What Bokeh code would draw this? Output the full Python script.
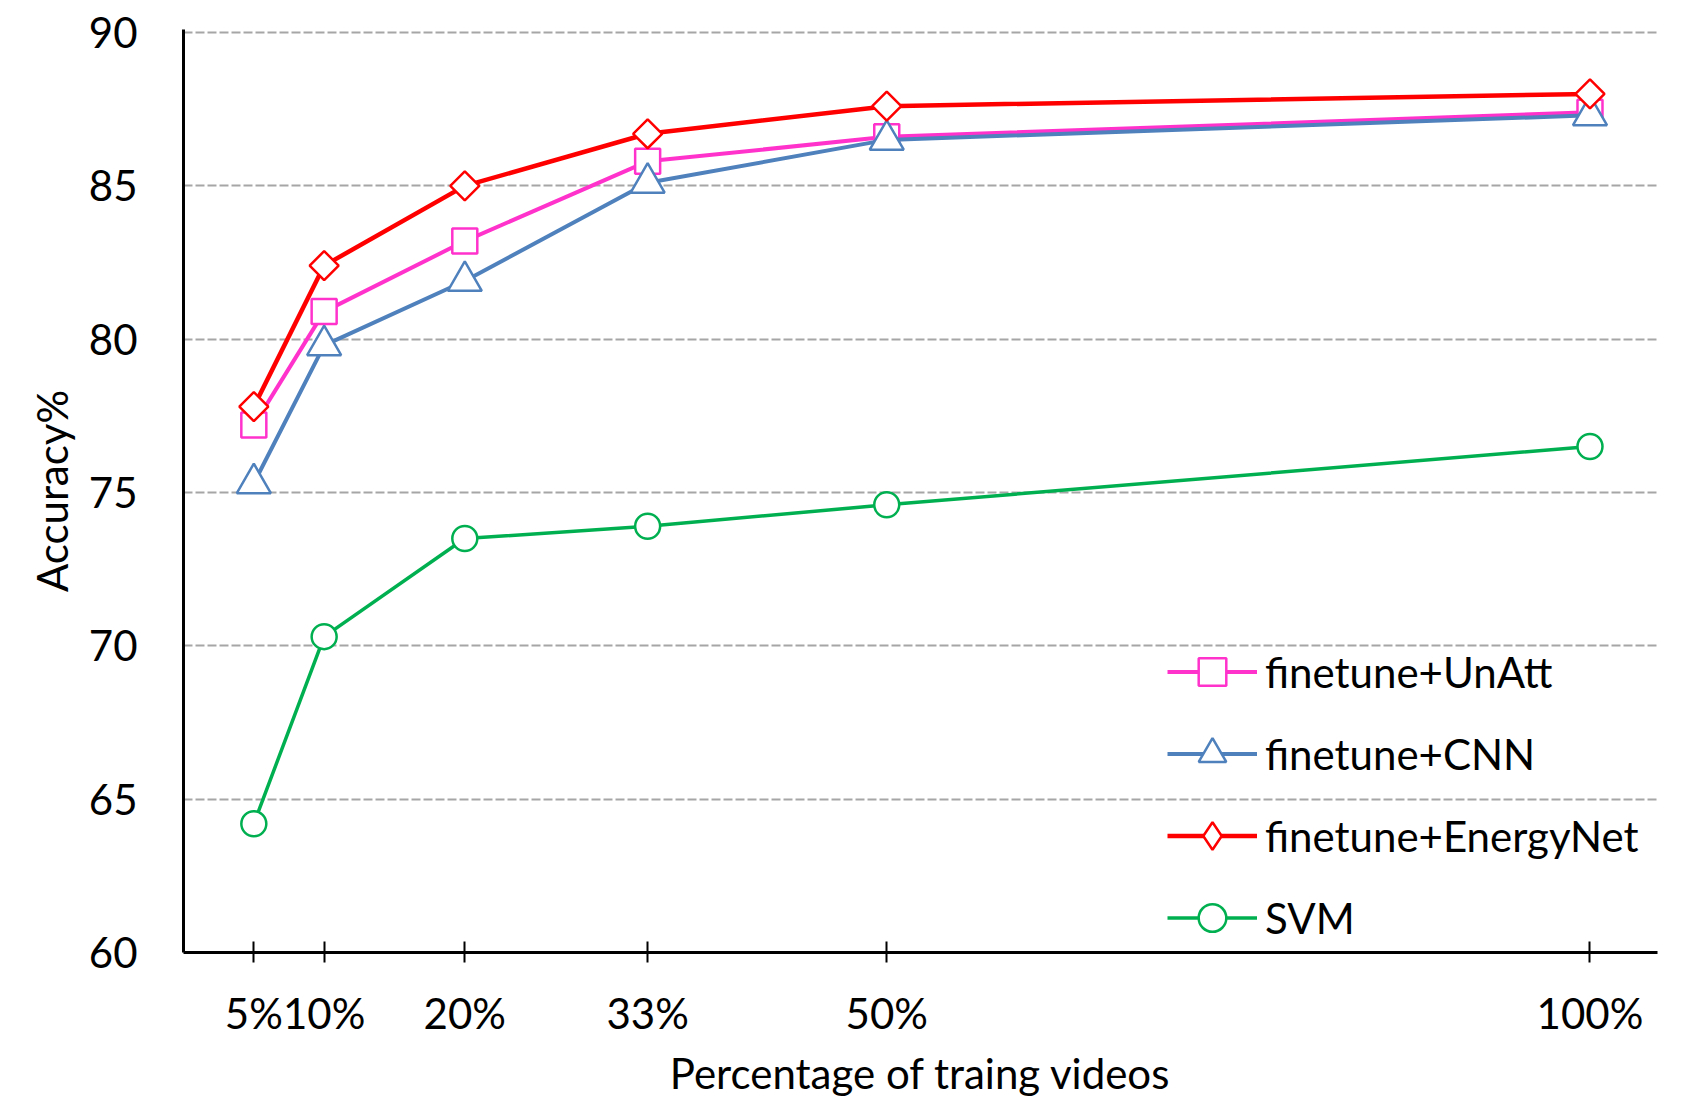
import math
from bokeh.plotting import figure
from bokeh.models import FixedTicker, Range1d, Legend, LegendItem
from bokeh.embed import file_html
from bokeh.resources import INLINE

# ---- data ----
x_pct = [5, 10, 20, 33, 50, 100]
x_tick_labels = ["5%", "10%", "20%", "33%", "50%", "100%"]
y_ticks = [60, 65, 70, 75, 80, 85, 90]
unatt = [77.2, 80.9, 83.2, 85.8, 86.6, 87.4]
cnn = [75.3, 79.8, 81.9, 85.1, 86.5, 87.3]
energy = [77.8, 82.4, 85.0, 86.7, 87.6, 88.0]
svm = [64.2, 70.3, 73.5, 73.9, 74.6, 76.5]
series_names = ["finetune+UnAtt", "finetune+CNN", "finetune+EnergyNet", "SVM"]

FONT = "Lato"
FS = "42px"

p = figure(width=1681, height=1105, output_backend="svg", toolbar_location=None,
           x_range=Range1d(0, 104.8), y_range=Range1d(60, 90.1),
           min_border_left=183, min_border_right=24, min_border_top=29, min_border_bottom=153)
p.outline_line_color = None
p.background_fill_color = "white"
p.border_fill_color = "white"

p.xgrid.grid_line_color = None
p.ygrid.grid_line_color = "#a6a6a6"
p.ygrid.grid_line_width = 2
p.ygrid.grid_line_dash = "9 3"
p.ygrid.ticker = FixedTicker(ticks=y_ticks)

p.xaxis.ticker = FixedTicker(ticks=x_pct)
p.xaxis.major_label_overrides = {x: l for x, l in zip(x_pct, x_tick_labels)}
p.yaxis.ticker = FixedTicker(ticks=y_ticks)
p.xaxis.minor_tick_line_color = None
p.yaxis.minor_tick_line_color = None
p.yaxis.major_tick_line_color = None
p.xaxis.major_tick_in = 11
p.xaxis.major_tick_out = 10
p.xaxis.major_tick_line_width = 2
p.xaxis.major_tick_line_color = "black"
for ax in (p.xaxis, p.yaxis):
    ax.axis_line_width = 3
    ax.axis_line_color = "black"
    ax.major_label_text_font = FONT
    ax.major_label_text_font_size = FS
    ax.major_label_text_color = "black"
    ax.axis_label_text_font = FONT
    ax.axis_label_text_font_size = FS
    ax.axis_label_text_font_style = "normal"
    ax.axis_label_text_color = "black"
p.yaxis.major_label_standoff = 40
p.xaxis.major_label_standoff = 25
p.xaxis.axis_label = "Percentage of traing videos"
p.yaxis.axis_label = "Accuracy%"
p.xaxis.axis_label_standoff = 7
p.yaxis.axis_label_standoff = 9

specs = [
    (unatt, "#ff33cc", "square", 25, 0.0, None, 4),
    (cnn, "#4f81bd", "triangle", 34, 0.0, None, 4),
    (energy, "#ff0000", "square", 20.5, math.pi / 4, "diamond", 4.5),
    (svm, "#00b050", "circle", 25, 0.0, None, 3.5),
]
items = []
for (vals, col, mk, sz, ang, legend_mk, lw), name in zip(specs, series_names):
    ln = p.line(x_pct, vals, line_color=col, line_width=lw)
    sc = p.scatter(x_pct, vals, marker=mk, size=sz, angle=ang, line_color=col,
                   line_width=2.5, fill_color="white")
    if legend_mk is None:
        items.append(LegendItem(label=name, renderers=[ln, sc]))
    else:
        # same points drawn as a diamond shape, used only for the legend symbol
        lg = p.scatter(x_pct, vals, marker=legend_mk, size=sz, line_color=col,
                       line_width=2.5, fill_color="white", visible=False)
        items.append(LegendItem(label=name, renderers=[ln, lg]))

legend = Legend(items=items, location=(984, 0), orientation="vertical",
                glyph_width=90, glyph_height=69, spacing=13, label_standoff=8,
                padding=0, margin=0, border_line_color=None, background_fill_alpha=0,
                label_text_font=FONT, label_text_font_size=FS, label_text_color="black")
p.add_layout(legend, "center")

open("out.html", "w").write(file_html(p, INLINE))
